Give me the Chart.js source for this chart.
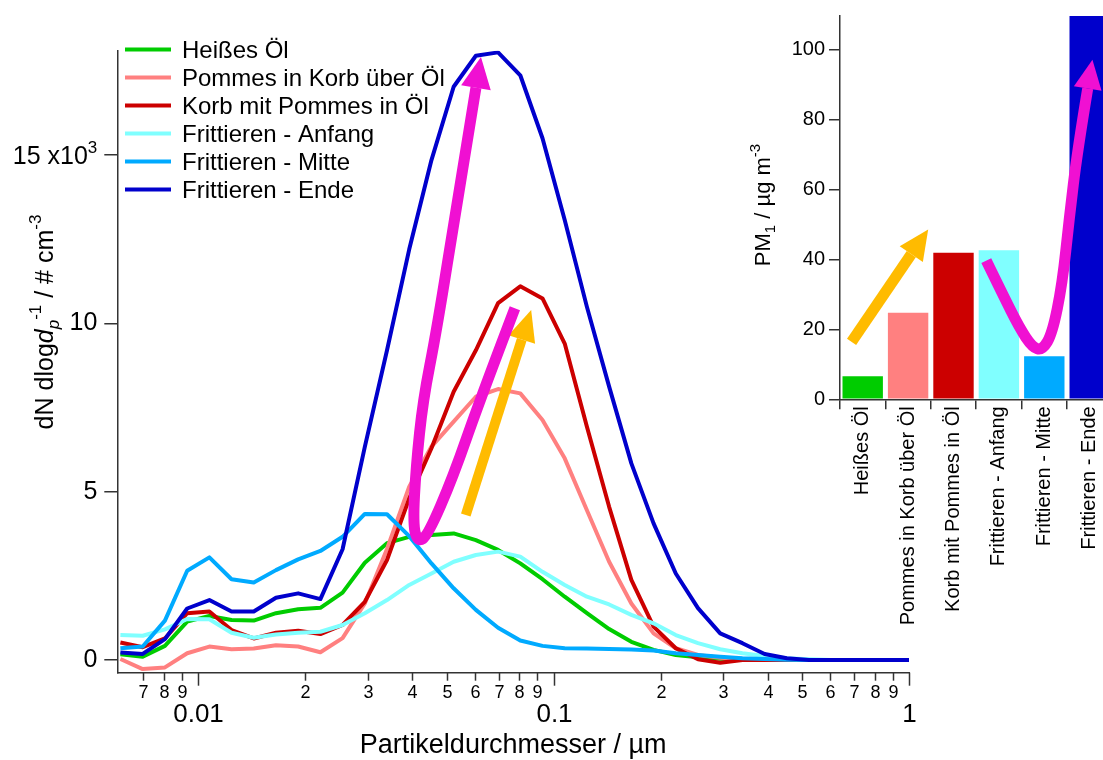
<!DOCTYPE html>
<html>
<head>
<meta charset="utf-8">
<title>Partikelgrößenverteilung beim Frittieren</title>
<script src="https://cdn.jsdelivr.net/npm/chart.js@4/dist/chart.umd.min.js"></script>
<style>
  html, body { margin: 0; padding: 0; background: #fff; width: 1103px; height: 760px; overflow: hidden; }
  #sizeChart { position: absolute; left: 0; top: 0; }
  #pmChart { position: absolute; left: 720px; top: 0; }
</style>
</head>
<body>
<canvas id="sizeChart" width="1103" height="760"></canvas>
<canvas id="pmChart" width="420" height="760"></canvas>
<script>
// SMPS channel midpoints (µm), 16 channels per decade
const sizes = [0.00604, 0.00698, 0.00806, 0.00931, 0.01075, 0.01241, 0.01433, 0.01655, 0.01911,
  0.02207, 0.02548, 0.02943, 0.03398, 0.03924, 0.04532, 0.05233, 0.06043, 0.06978, 0.08058,
  0.09306, 0.10746, 0.12409, 0.1433, 0.16548, 0.1911, 0.22067, 0.25483, 0.29427, 0.33982,
  0.39242, 0.45316, 0.52329, 0.60428, 0.69781, 0.80579, 0.93051, 1.0746];

// dN/dlogdp in # cm^-3
const heissesOel = [170, 100, 420, 1140, 1310, 1190, 1170, 1390, 1510, 1550, 2000, 2890, 3470, 3660,
  3710, 3760, 3560, 3270, 2870, 2400, 1880, 1390, 920, 540, 300, 150, 80, 40, 20, 10, 5, 0, 0, 0, 0, 0, 0];
const pommesUeberOel = [30, -270, -220, 200, 400, 320, 340, 440, 400, 230, 650, 1680, 3300, 5150,
  6340, 7080, 7820, 8050, 7920, 7130, 5990, 4450, 2920, 1680, 790, 350, 150, 70, 30, 10, 0, 0, 0, 0, 0, 0, 0];
const pommesInOel = [520, 380, 640, 1390, 1440, 890, 640, 810, 870, 770, 1040, 1730, 2970, 4800,
  6290, 7970, 9200, 10600, 11100, 10740, 9400, 6930, 4550, 2380, 990, 350, 20, -80, 0, 10, 0, 0, 0, 0, 0, 0, 0];
const frittAnfang = [740, 720, 910, 1220, 1210, 810, 660, 760, 810, 840, 1040, 1390, 1780, 2230,
  2570, 2920, 3120, 3220, 3070, 2620, 2230, 1880, 1650, 1340, 1090, 740, 500, 320, 200, 120, 50, 20, 0, 0, 0, 0, 0];
const frittMitte = [350, 400, 1170, 2650, 3050, 2400, 2300, 2670, 2990, 3240, 3660, 4340, 4330, 3680,
  2870, 2130, 1490, 960, 580, 420, 350, 340, 330, 310, 280, 200, 150, 100, 50, 30, 10, 0, 0, 0, 0, 0, 0];
const frittEnde = [220, 180, 620, 1530, 1780, 1440, 1440, 1850, 1980, 1810, 3290, 6330, 9200, 12200,
  14850, 17030, 17950, 18050, 17370, 15500, 13070, 10490, 8120, 5840, 4060, 2570, 1540, 790, 500, 180, 50, 0, 0, 0, 0, 0, 0];

const seriesNames = ['Heißes Öl', 'Pommes in Korb über Öl', 'Korb mit Pommes in Öl',
  'Frittieren - Anfang', 'Frittieren - Mitte', 'Frittieren - Ende'];
const seriesColors = ['#00cc00', '#ff8080', '#cc0000', '#80ffff', '#00aaff', '#0000cc'];

// PM1 mass concentration per phase (µg m^-3)
const pmValues = [6.6, 24.7, 41.9, 42.6, 12.3, 120];

// axis ticks
const yTicks = [0, 5000, 10000, 15000];
const xMajorTicks = [0.01, 0.1, 1];
const xMinorTicks = [0.007, 0.008, 0.009, 0.02, 0.03, 0.04, 0.05, 0.06, 0.07, 0.08, 0.09,
  0.2, 0.3, 0.4, 0.5, 0.6, 0.7, 0.8, 0.9];
const pmTicks = [0, 20, 40, 60, 80, 100];

// trend arrows, [diameter µm, dN/dlogdp] and [bar index, PM1]
const sizeLoopArrow = [[0.0778, 10450], [0.0620, 7720], [0.0521, 5430], [0.0443, 3710], [0.0415, 3500],
  [0.0402, 4010], [0.0410, 5730], [0.0429, 7720], [0.0469, 9800], [0.0538, 13750], [0.0624, 17880]];
const sizeRiseArrow = [[0.0566, 4310], [0.0863, 10370]];
const pmRiseArrow = [[-0.245, 16.4], [1.43, 48.3]];
const pmLoopArrow = [[2.722, 39.6], [3.075, 30.2], [3.449, 20.5], [3.735, 14.9], [3.956, 14.0],
  [4.176, 18.8], [4.396, 33.0], [4.550, 51.8], [4.727, 70.8], [5.057, 96.7]];

const MAGENTA = '#f010d2';
const ORANGE = '#ffbb00';
const AXIS = '#333';
const FONT = "'Liberation Sans', Arial, sans-serif";

Chart.defaults.font.family = FONT;
Chart.defaults.color = '#000';

// arrow along a smoothed path; last entry of pts is the tip
function drawArrow(ctx, pts, width, headLen, half, color) {
  const tip = pts[pts.length - 1];
  const prev = pts[pts.length - 2];
  const dx = tip[0] - prev[0], dy = tip[1] - prev[1];
  const len = Math.hypot(dx, dy);
  const ux = dx / len, uy = dy / len;
  const base = [tip[0] - ux * headLen, tip[1] - uy * headLen];
  const path = pts.slice(0, -1).concat([base]);

  ctx.save();
  ctx.strokeStyle = color;
  ctx.fillStyle = color;
  ctx.lineWidth = width;
  ctx.lineCap = 'butt';
  ctx.lineJoin = 'round';
  ctx.beginPath();
  ctx.moveTo(path[0][0], path[0][1]);
  if (path.length === 2) {
    ctx.lineTo(path[1][0], path[1][1]);
  } else {
    for (let i = 1; i < path.length - 1; i++) {
      const last = i === path.length - 2;
      const ex = last ? path[i + 1][0] : (path[i][0] + path[i + 1][0]) / 2;
      const ey = last ? path[i + 1][1] : (path[i][1] + path[i + 1][1]) / 2;
      ctx.quadraticCurveTo(path[i][0], path[i][1], ex, ey);
    }
  }
  ctx.stroke();

  ctx.beginPath();
  ctx.moveTo(tip[0] + ux, tip[1] + uy);
  ctx.lineTo(base[0] - uy * half, base[1] + ux * half);
  ctx.lineTo(base[0] + uy * half, base[1] - ux * half);
  ctx.closePath();
  ctx.fill();
  ctx.restore();
}

// text made of runs with their own size / shift (sub- and superscripts)
function richText(ctx, parts, x, y, angle, align) {
  ctx.save();
  ctx.translate(x, y);
  ctx.rotate(angle);
  ctx.textBaseline = 'alphabetic';
  ctx.textAlign = 'left';
  ctx.fillStyle = '#000';
  const fontOf = p => (p.italic ? 'italic ' : '') + p.size + 'px ' + FONT;
  let total = 0;
  parts.forEach(p => { ctx.font = fontOf(p); total += ctx.measureText(p.text).width; });
  let cx = align === 'right' ? -total : -total / 2;
  parts.forEach(p => {
    ctx.font = fontOf(p);
    ctx.fillText(p.text, cx, p.dy || 0);
    cx += ctx.measureText(p.text).width;
  });
  ctx.restore();
}

const toPx = (chart, pts) => pts.map(p => [chart.scales.x.getPixelForValue(p[0]), chart.scales.y.getPixelForValue(p[1])]);

const sizeDecor = {
  id: 'sizeDecor',
  afterDraw(chart) {
    const ctx = chart.ctx;
    const xs = chart.scales.x;
    const ys = chart.scales.y;
    const area = chart.chartArea;

    // log axis ticks and labels
    ctx.save();
    ctx.strokeStyle = AXIS;
    ctx.lineWidth = 1.5;
    ctx.fillStyle = '#000';
    ctx.textAlign = 'center';
    ctx.textBaseline = 'alphabetic';
    xMinorTicks.forEach(v => {
      const px = Math.round(xs.getPixelForValue(v)) + 0.5;
      ctx.beginPath();
      ctx.moveTo(px, area.bottom);
      ctx.lineTo(px, area.bottom + 8);
      ctx.stroke();
      const digit = Math.round(v / Math.pow(10, Math.floor(Math.log10(v) + 1e-9)));
      ctx.font = '18px ' + FONT;
      ctx.fillText(String(digit), px, area.bottom + 25.5);
    });
    xMajorTicks.forEach(v => {
      const px = Math.round(xs.getPixelForValue(v)) + 0.5;
      ctx.beginPath();
      ctx.moveTo(px, area.bottom);
      ctx.lineTo(px, area.bottom + 13);
      ctx.stroke();
      ctx.font = '26px ' + FONT;
      ctx.fillText(String(v), px, area.bottom + 49);
    });

    ctx.font = '27px ' + FONT;
    ctx.fillText('Partikeldurchmesser / µm', (area.left + area.right) / 2, 753);
    ctx.restore();

    // top tick label with its exponent
    richText(ctx, [
      { text: '15 x10', size: 25 },
      { text: '3', size: 17, dy: -11 }
    ], area.left - 20, ys.getPixelForValue(15000) + 9, 0, 'right');

    // y title
    richText(ctx, [
      { text: 'dN dlog', size: 25 },
      { text: 'd', size: 25, italic: true },
      { text: 'p', size: 17, italic: true, dy: 6 },
      { text: '-1', size: 17, dy: -12 },
      { text: ' / # cm', size: 25 },
      { text: '-3', size: 17, dy: -12 }
    ], 53, 322, -Math.PI / 2);

    // legend
    ctx.save();
    ctx.font = '24px ' + FONT;
    ctx.textBaseline = 'alphabetic';
    ctx.fillStyle = '#000';
    seriesNames.forEach((name, i) => {
      const ry = 49.5 + i * 28;
      ctx.strokeStyle = seriesColors[i];
      ctx.lineWidth = 4;
      ctx.beginPath();
      ctx.moveTo(125, ry);
      ctx.lineTo(171, ry);
      ctx.stroke();
      ctx.fillText(name, 182, ry + 8);
    });
    ctx.restore();

    drawArrow(ctx, toPx(chart, sizeRiseArrow), 10, 30, 14, ORANGE);
    drawArrow(ctx, toPx(chart, sizeLoopArrow), 11, 30, 15, MAGENTA);
  }
};

new Chart(document.getElementById('sizeChart'), {
  type: 'line',
  data: {
    datasets: [heissesOel, pommesUeberOel, pommesInOel, frittAnfang, frittMitte, frittEnde].map((vals, i) => ({
      label: seriesNames[i],
      data: sizes.map((d, k) => ({ x: d, y: vals[k] })),
      borderColor: seriesColors[i],
      borderWidth: 4,
      borderJoinStyle: 'round',
      pointRadius: 0,
      tension: 0,
      order: 6 - i
    }))
  },
  options: {
    responsive: false,
    animation: false,
    devicePixelRatio: 1,
    layout: { padding: { top: 50.7, right: 194, left: 0, bottom: 0 } },
    plugins: { legend: { display: false }, tooltip: { enabled: false } },
    scales: {
      x: {
        type: 'logarithmic',
        min: 0.00592,
        max: 1,
        afterFit: s => { s.height = 87.3; },
        ticks: { display: false },
        grid: { display: false },
        border: { color: AXIS, width: 1.5 }
      },
      y: {
        min: -377,
        max: 18100,
        afterFit: s => { s.width = 117.3; },
        afterBuildTicks: s => { s.ticks = yTicks.map(v => ({ value: v })); },
        ticks: {
          font: { size: 25 },
          color: '#000',
          padding: 7,
          callback: v => v === 15000 ? '' : String(v / 1000)
        },
        grid: { drawOnChartArea: false, tickLength: 13, tickColor: AXIS, lineWidth: 1.5 },
        border: { color: AXIS, width: 1.5 }
      }
    }
  },
  plugins: [sizeDecor]
});

const pmDecor = {
  id: 'pmDecor',
  afterDraw(chart) {
    const ctx = chart.ctx;
    richText(ctx, [
      { text: 'PM', size: 22 },
      { text: '1', size: 15, dy: 5 },
      { text: ' / µg m', size: 22 },
      { text: '-3', size: 15, dy: -10 }
    ], 50, 205, -Math.PI / 2);
    drawArrow(ctx, toPx(chart, pmRiseArrow), 11, 29, 14, ORANGE);
    drawArrow(ctx, toPx(chart, pmLoopArrow), 11, 28, 14, MAGENTA);
  }
};

new Chart(document.getElementById('pmChart'), {
  type: 'bar',
  data: {
    labels: seriesNames,
    datasets: [{
      data: pmValues,
      backgroundColor: seriesColors,
      barPercentage: 0.89,
      categoryPercentage: 1
    }]
  },
  options: {
    responsive: false,
    animation: false,
    devicePixelRatio: 1,
    layout: { padding: { top: 14, right: 27.6, left: 0, bottom: 0 } },
    plugins: { legend: { display: false }, tooltip: { enabled: false } },
    scales: {
      x: {
        afterFit: s => { s.height = 360.7; },
        ticks: { minRotation: 90, maxRotation: 90, autoSkip: false, font: { size: 20 }, color: '#000', padding: -3 },
        grid: { drawOnChartArea: false, offset: true, tickLength: 10, tickColor: AXIS, lineWidth: 1.5 },
        border: { color: AXIS, width: 1.5 }
      },
      y: {
        min: 0,
        max: 109.5,
        afterFit: s => { s.width = 120; },
        afterBuildTicks: s => { s.ticks = pmTicks.map(v => ({ value: v })); },
        ticks: { font: { size: 20 }, color: '#000', padding: 4 },
        grid: { drawOnChartArea: false, tickLength: 11, tickColor: AXIS, lineWidth: 1.5 },
        border: { color: AXIS, width: 1.5 }
      }
    }
  },
  plugins: [pmDecor]
});
</script>
</body>
</html>
